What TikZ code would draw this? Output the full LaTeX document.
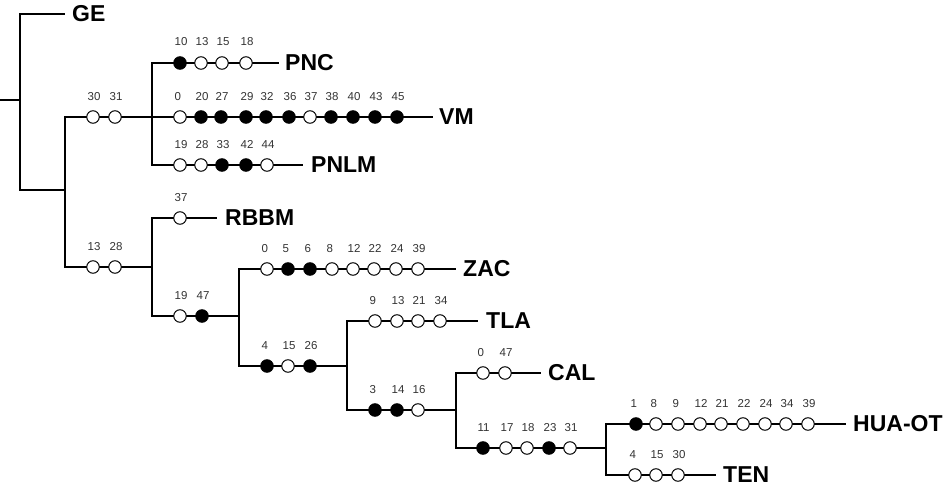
\documentclass[tikz,border=0pt]{standalone}
\usepackage{fontspec}
\setmainfont{Liberation Sans}
\tikzset{
  branch/.style={line width=1.3pt, line cap=rect},
  wc/.style={circle, draw, line width=1pt, fill=white, minimum size=12.5pt, inner sep=0pt},
  bc/.style={wc, fill=black},
  num/.style={font=\fontsize{11.5}{13}\selectfont, text=black!80, inner sep=0pt, anchor=base west},
  taxon/.style={font=\fontsize{23}{25}\selectfont\bfseries, inner sep=0pt, anchor=west},
}
\newcommand\markrow[3]{%
  \foreach \x/\s/\l [count=\i] in {#3} {%
    \node[\s] (#1\i) at (\x,#2) {};
    \node[num] (#1l\i) at ([xshift=-5.5pt,yshift=17pt]#1\i.center) {\l};
  }%
}
\begin{document}
\begin{tikzpicture}[x=1pt,y=-1pt]
\useasboundingbox (0,0) rectangle (943,487);
% junctions and line ends
\coordinate (s0) at (0,100);
\coordinate (j0) at (20,100);
\coordinate (eGE) at (64,14);
\coordinate (j1) at (65,190);
\coordinate (j2) at (152,117);
\coordinate (j3) at (152,267);
\coordinate (ePNC) at (278,63);
\coordinate (eVM) at (432,117);
\coordinate (ePNLM) at (302,165);
\coordinate (eRBBM) at (216,218);
\coordinate (j4) at (239,316);
\coordinate (eZAC) at (455,269);
\coordinate (j5) at (347,366);
\coordinate (eTLA) at (477,321);
\coordinate (j6) at (456,410);
\coordinate (eCAL) at (540,373);
\coordinate (j7) at (606,448);
\coordinate (eHUA) at (845,424);
\coordinate (eTEN) at (715,475);
% branches
\draw[branch] (s0) -- (j0);
\draw[branch] (j0) |- (eGE);
\draw[branch] (j0) |- (j1);
\draw[branch] (j1) |- (j2);
\draw[branch] (j1) |- (j3);
\draw[branch] (j2) |- (ePNC);
\draw[branch] (j2) |- (eVM);
\draw[branch] (j2) |- (ePNLM);
\draw[branch] (j3) |- (eRBBM);
\draw[branch] (j3) |- (j4);
\draw[branch] (j4) |- (eZAC);
\draw[branch] (j4) |- (j5);
\draw[branch] (j5) |- (eTLA);
\draw[branch] (j5) |- (j6);
\draw[branch] (j6) |- (eCAL);
\draw[branch] (j6) |- (j7);
\draw[branch] (j7) |- (eHUA);
\draw[branch] (j7) |- (eTEN);
% taxa
\node[taxon] (GE) at ([xshift=8pt]eGE) {GE};
\node[taxon] (PNC) at ([xshift=7pt]ePNC) {PNC};
\node[taxon] (VM) at ([xshift=7pt]eVM) {VM};
\node[taxon] (PNLM) at ([xshift=9pt]ePNLM) {PNLM};
\node[taxon] (RBBM) at ([xshift=9pt]eRBBM) {RBBM};
\node[taxon] (ZAC) at ([xshift=8pt]eZAC) {ZAC};
\node[taxon] (TLA) at ([xshift=9pt]eTLA) {TLA};
\node[taxon] (CAL) at ([xshift=8pt]eCAL) {CAL};
\node[taxon] (HUA) at ([xshift=8pt]eHUA) {HUA-OT};
\node[taxon] (TEN) at ([xshift=8pt]eTEN) {TEN};
% character states
\markrow{a}{117}{93/wc/30, 115/wc/31}
\markrow{pnc}{63}{180/bc/10, 201/wc/13, 222/wc/15, 246/wc/18}
\markrow{vm}{117}{180/wc/0, 201/bc/20, 221/bc/27, 246/bc/29, 266/bc/32, 289/bc/36, 310/wc/37, 331/bc/38, 353/bc/40, 375/bc/43, 397/bc/45}
\markrow{pnlm}{165}{180/wc/19, 201/wc/28, 222/bc/33, 246/bc/42, 267/wc/44}
\markrow{b}{267}{93/wc/13, 115/wc/28}
\markrow{rbbm}{218}{180/wc/37}
\markrow{c}{316}{180/wc/19, 202/bc/47}
\markrow{zac}{269}{267/wc/0, 288/bc/5, 310/bc/6, 332/wc/8, 353/wc/12, 374/wc/22, 396/wc/24, 418/wc/39}
\markrow{d}{366}{267/bc/4, 288/wc/15, 310/bc/26}
\markrow{tla}{321}{375/wc/9, 397/wc/13, 418/wc/21, 440/wc/34}
\markrow{e}{410}{375/bc/3, 397/bc/14, 418/wc/16}
\markrow{cal}{373}{483/wc/0, 505/wc/47}
\markrow{f}{448}{483/bc/11, 506/wc/17, 527/wc/18, 549/bc/23, 570/wc/31}
\markrow{hua}{424}{636/bc/1, 656/wc/8, 678/wc/9, 700/wc/12, 721/wc/21, 743/wc/22, 765/wc/24, 786/wc/34, 808/wc/39}
\markrow{ten}{475}{635/wc/4, 656/wc/15, 678/wc/30}
\end{tikzpicture}
\end{document}
